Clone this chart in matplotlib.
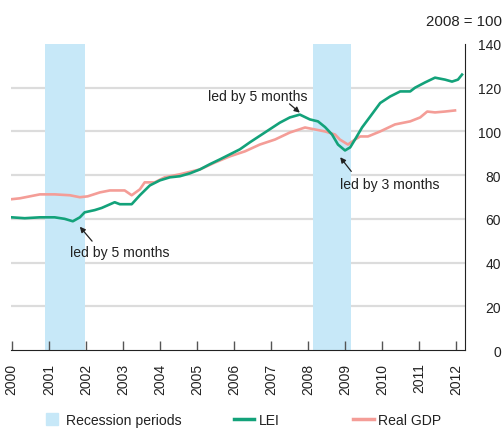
import matplotlib
matplotlib.use("Agg")
import matplotlib.pyplot as plt
from matplotlib.lines import Line2D

plt.rcParams["font.family"] = ["Liberation Sans", "DejaVu Sans"]

# ── Data ──────────────────────────────────────────────────────────────────────
lei_t = [2000.0, 2000.35, 2000.76, 2001.16, 2001.43, 2001.65, 2001.84, 2001.97,
         2002.24, 2002.43, 2002.78, 2002.92, 2003.24, 2003.46, 2003.73, 2004.0,
         2004.27, 2004.54, 2004.81, 2005.08, 2005.35, 2005.62, 2005.89, 2006.16,
         2006.43, 2006.70, 2006.97, 2007.24, 2007.51, 2007.78, 2008.05, 2008.27,
         2008.46, 2008.65, 2008.81, 2009.0, 2009.14, 2009.27, 2009.46, 2009.68,
         2009.95, 2010.22, 2010.49, 2010.76, 2010.89, 2011.16, 2011.43, 2011.70,
         2011.89, 2012.05, 2012.16]
lei_v = [60.7, 60.3, 60.7, 60.7, 60.0, 58.9, 60.7, 63.0,
         64.0, 65.0, 67.6, 66.7, 66.7, 70.8, 75.3, 77.6,
         79.0, 79.5, 80.8, 82.6, 85.0, 87.2, 89.5, 91.8,
         95.0, 98.0, 101.0, 104.0, 106.4, 107.7, 105.5, 104.6,
         102.0, 98.6, 94.0, 91.3, 92.7, 96.3, 101.8, 106.8,
         113.0, 116.0, 118.3, 118.3, 120.0, 122.4, 124.6, 123.7,
         122.8, 123.7, 126.0]

gdp_t = [2000.0, 2000.22, 2000.49, 2000.76, 2001.16, 2001.57, 2001.84, 2002.05,
         2002.38, 2002.65, 2003.05, 2003.24, 2003.46, 2003.59, 2003.86, 2004.13,
         2004.54, 2005.08, 2005.49, 2005.89, 2006.30, 2006.70, 2007.11, 2007.51,
         2007.92, 2008.19, 2008.46, 2008.73, 2008.86, 2009.08, 2009.27, 2009.41,
         2009.62, 2009.95, 2010.35, 2010.76, 2011.03, 2011.22, 2011.43, 2011.70,
         2011.97]
gdp_v = [69.0, 69.4, 70.3, 71.2, 71.2, 70.8, 69.9, 70.3,
         72.1, 73.0, 73.0, 70.8, 73.5, 76.7, 76.7, 79.0,
         80.4, 82.6, 85.8, 88.6, 90.9, 94.0, 96.3, 99.5,
         101.8, 100.9, 100.0, 98.6, 96.3, 94.0, 96.3, 97.7,
         97.7, 100.0, 103.2, 104.6, 106.4, 109.1, 108.7, 109.1,
         109.6]

recessions = [(2000.9, 2001.97), (2008.14, 2009.16)]
years = list(range(2000, 2013))
y_ticks = [0, 20, 40, 60, 80, 100, 120, 140]

# (label, text position, arrow tail, arrow tip) in data units
notes = [
    ("led by 5 months", (2006.65, 116.4), (2007.50, 112.6), (2007.78, 108.6)),
    ("led by 5 months", (2002.92, 44.7), (2002.17, 49.8), (2001.84, 56.4)),
    ("led by 3 months", (2010.2, 75.8), (2009.17, 81.7), (2008.87, 88.2)),
]

# ── Style ─────────────────────────────────────────────────────────────────────
GREEN = "#13a27a"
PINK = "#f49d97"
BLUE = "#c7e8f8"
GRID = "#dcdcdc"
TEXT = "#222222"
FS = 10.1      # annotations / legend
TICK_FS = 10

fig = plt.figure(figsize=(5.04, 4.31), dpi=100)
ax = fig.add_axes([0.0218, 0.1856, 0.9008, 0.71])

for y in y_ticks[1:-1]:
    ax.axhline(y, color=GRID, linewidth=1.6, zorder=0)
for a, b in recessions:
    ax.axvspan(a, b, color=BLUE, linewidth=0, zorder=1)

ax.plot(gdp_t, gdp_v, color=PINK, linewidth=1.9, zorder=3)
ax.plot(lei_t, lei_v, color=GREEN, linewidth=1.9, zorder=4)

for label, txt, tail, tip in notes:
    ax.text(*txt, label, fontsize=FS, color=TEXT, ha="center", va="center", zorder=5)
    ax.annotate("", xy=tip, xytext=tail,
                arrowprops=dict(arrowstyle="-|>", color=TEXT, lw=0.9,
                                mutation_scale=8, shrinkA=0, shrinkB=0),
                zorder=5)

# ── Axes ──────────────────────────────────────────────────────────────────────
ax.set_xlim(1999.98, 2012.24)
ax.set_ylim(0, 140)
ax.set_xticks(years)
ax.set_xticklabels([str(y) for y in years], rotation=90, fontsize=TICK_FS, color=TEXT)
ax.tick_params(axis="x", direction="in", length=6.5, width=1, color="#555555", pad=9)
ax.yaxis.tick_right()
ax.set_yticks(y_ticks)
ax.set_yticklabels([str(v) for v in y_ticks], fontsize=TICK_FS, color=TEXT, ha="right")
ax.tick_params(axis="y", length=0, pad=26)
for side in ("top", "left"):
    ax.spines[side].set_visible(False)
ax.spines["bottom"].set_color("#222222")
ax.spines["right"].set_color("#222222")

fig.text(0.997, 0.95, "2008 = 100", fontsize=10.8, color=TEXT, ha="right", va="center")

# ── Legend (three single-entry legends placed along the bottom) ───────────────
entries = [
    (Line2D([], [], marker="s", linestyle="none", markersize=8.5,
            markerfacecolor=BLUE, markeredgecolor=BLUE),
     "Recession periods", 46, 0.8, 0.6),
    (Line2D([], [], color=GREEN, linewidth=2.5), "LEI", 234, 1.4, 0.35),
    (Line2D([], [], color=PINK, linewidth=2.5), "Real GDP", 353, 1.5, 0.3),
]
for handle, label, x_px, hlen, hpad in entries:
    leg = fig.legend([handle], [label], loc="center left",
                     bbox_to_anchor=(x_px / 504, 1 - 421 / 431),
                     frameon=False, fontsize=FS, borderpad=0, borderaxespad=0,
                     handlelength=hlen, handletextpad=hpad, labelcolor=TEXT)

fig.savefig("out.png", dpi=100)
